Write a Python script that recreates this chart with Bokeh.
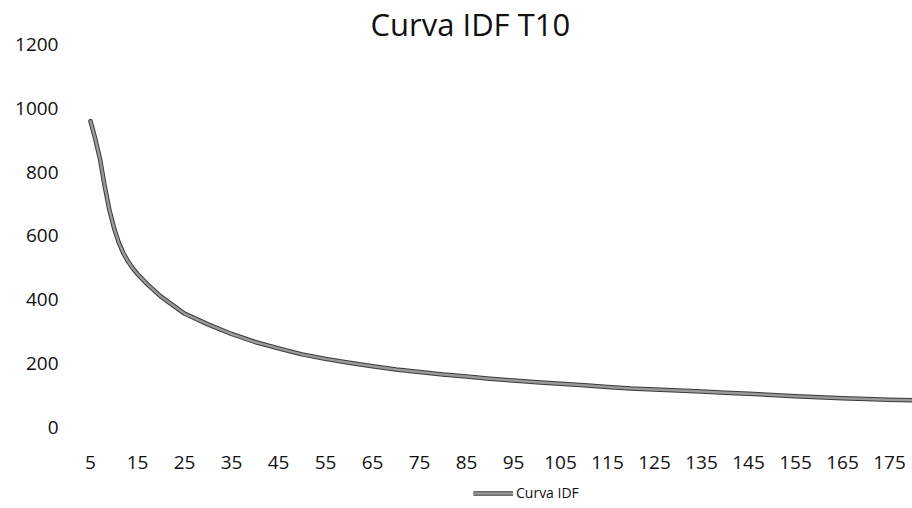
from bokeh.plotting import figure
from bokeh.models import FixedTicker, Range1d, Legend, LegendItem, Title
from bokeh.layouts import column
from bokeh.embed import file_html
from bokeh.resources import INLINE

duracion = [5, 6, 7, 8, 9, 10, 11, 12, 13, 14, 15, 17, 20, 25, 30, 35, 40, 45, 50,
            55, 60, 65, 70, 75, 80, 85, 90, 95, 100, 105, 110, 115, 120, 125, 130,
            135, 140, 145, 150, 155, 160, 165, 170, 175, 180]
intensidad = [960, 905, 843, 758, 683, 625, 580, 546, 520, 499, 481, 450, 410, 357,
              323, 293, 268, 248, 229, 215, 203, 192, 182, 174, 166, 160, 153, 147,
              142, 137, 132, 127, 122, 119, 116, 113, 109, 106, 102, 98, 95, 92, 89,
              87, 85]
x_ticks = [5, 15, 25, 35, 45, 55, 65, 75, 85, 95, 105, 115, 125, 135, 145, 155, 165, 175]
y_ticks = [0, 200, 400, 600, 800, 1000, 1200]
titulo = "Curva IDF T10"
serie = "Curva IDF"

FONT = "Open Sans"
DARK = "#3a3a3a"
LIGHT = "#9a9a9a"

p = figure(width=912, height=482, output_backend="svg", toolbar_location=None,
           min_border_left=70, min_border_right=0,
           min_border_top=0, min_border_bottom=43,
           x_range=Range1d(0.745, 179.89), y_range=Range1d(-37.6, 1200))
p.outline_line_color = None
p.grid.visible = False
p.background_fill_color = "white"
p.border_fill_color = "white"

t = Title(text=titulo, align="left", text_font=FONT, text_font_size="31px",
          text_font_style="normal", text_color="#111111", offset=300, standoff=0)
p.add_layout(t, "above")

for ax in (p.xaxis[0], p.yaxis[0]):
    ax.axis_line_color = None
    ax.major_tick_line_color = None
    ax.minor_tick_line_color = None
    ax.major_tick_out = 0
    ax.major_tick_in = 0
    ax.minor_tick_out = 0
    ax.major_label_text_font = FONT
    ax.major_label_text_font_size = "19px"
    ax.major_label_text_color = "#111111"

p.xaxis[0].ticker = FixedTicker(ticks=x_ticks)
p.yaxis[0].ticker = FixedTicker(ticks=y_ticks)
p.xaxis[0].major_label_standoff = 16
p.yaxis[0].major_label_standoff = 12

p.line(duracion, intensidad, line_color=DARK, line_width=4.5,
       line_join="round", line_cap="round")
p.line(duracion, intensidad, line_color=LIGHT, line_width=2.5,
       line_join="round", line_cap="round")

# legend strip below the chart (its lines fall outside this strip's ranges)
pl = figure(width=912, height=20, output_backend="svg", toolbar_location=None,
            x_axis_type=None, y_axis_type=None,
            min_border_left=0, min_border_right=0, min_border_top=0,
            min_border_bottom=0, x_range=Range1d(0, 1), y_range=Range1d(0, 1))
pl.outline_line_color = None
pl.background_fill_color = "white"
pl.border_fill_color = "white"
l1 = pl.line(duracion, intensidad, line_color=DARK, line_width=4.5)
l2 = pl.line(duracion, intensidad, line_color=LIGHT, line_width=2.5)

legend = Legend(items=[LegendItem(label=serie, renderers=[l1, l2])],
                orientation="horizontal", location=(403, 0),
                border_line_color=None, background_fill_alpha=0,
                label_text_font=FONT, label_text_font_size="14px",
                label_text_color="#111111", glyph_width=40, glyph_height=14,
                label_standoff=3, padding=0, margin=0, spacing=0)
pl.add_layout(legend, "center")

layout = column(p, pl, spacing=0)
open("out.html", "w").write(file_html(layout, INLINE))
